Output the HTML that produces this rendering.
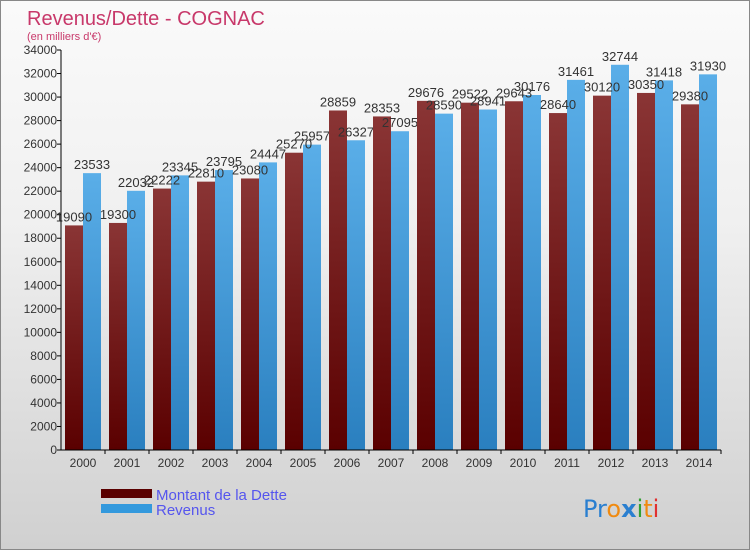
<!DOCTYPE html>
<html><head><meta charset="utf-8">
<style>
body{margin:0;}
#wrap{position:relative;width:748px;height:548px;border:1px solid #888;background:linear-gradient(#fafafa,#f0f0f0 40%,#d0d0d0);font-family:"Liberation Sans",sans-serif;overflow:hidden;}
</style></head><body>
<div id="wrap">
<svg id="chart" width="748" height="548" xmlns="http://www.w3.org/2000/svg" font-family="Liberation Sans, sans-serif">
<defs>
<linearGradient id="gd" x1="0" y1="0" x2="0" y2="1"><stop offset="0" stop-color="#8a3535"/><stop offset="1" stop-color="#5a0000"/></linearGradient>
<linearGradient id="gr" x1="0" y1="0" x2="0" y2="1"><stop offset="0" stop-color="#5aaee8"/><stop offset="1" stop-color="#2a7fbf"/></linearGradient>
</defs>
<text x="26" y="24" font-size="20" fill="#c8386a">Revenus/Dette - COGNAC</text>
<text x="26" y="39" font-size="11" fill="#c8386a">(en milliers d'€)</text>
<g id="plot"></g>
<rect x="100" y="488" width="51" height="9" fill="#5a0000"/>
<rect x="100" y="503" width="51" height="9" fill="#3399dd"/>
<text x="155" y="499" font-size="15" fill="#5555ee">Montant de la Dette</text>
<text x="155" y="514" font-size="15" fill="#5555ee">Revenus</text>
<g font-size="24" font-family="DejaVu Sans, sans-serif">
<text x="582" y="516"><tspan fill="#2a7fd0">Pr</tspan><tspan fill="#f08a10">o</tspan><tspan fill="#2a7fd0" font-weight="bold">x</tspan><tspan fill="#33a033">i</tspan><tspan fill="#f08a10">t</tspan><tspan fill="#e03030">i</tspan></text>
</g>
</svg>
</div>
<script>
const years=["2000","2001","2002","2003","2004","2005","2006","2007","2008","2009","2010","2011","2012","2013","2014"];
const dette=[19090,19300,22222,22810,23080,25270,28859,28353,29676,29522,29643,28640,30120,30350,29380];
const revenus=[23533,22032,23345,23795,24447,25957,26327,27095,28590,28941,30176,31461,32744,31418,31930];
const yTicks=[0,2000,4000,6000,8000,10000,12000,14000,16000,18000,20000,22000,24000,26000,28000,30000,32000,34000];
const NS="http://www.w3.org/2000/svg";
const g=document.getElementById('plot');
const x0=60,y0=449,yMax=34000,ph=400,step=44,bw=18;
function y(v){return y0-v/yMax*ph;}
function xc(i){return x0+22+i*step;}
function mk(t,a){const e=document.createElementNS(NS,t);for(const k in a)e.setAttribute(k,a[k]);g.appendChild(e);return e;}
yTicks.forEach(v=>{
 const l=mk('line',{x1:x0-4,x2:x0,y1:y(v),y2:y(v),stroke:'#000'});
 
 
 const t=mk('text',{x:x0-4,y:y(v)+4,'font-size':12,'text-anchor':'end',fill:'#333'});
 t.textContent=v;
 
 
});
years.forEach((yr,i)=>{
 const c=xc(i);
 const d=mk('rect',{x:c-bw,y:y(dette[i]),width:bw,height:y0-y(dette[i]),fill:'url(#gd)'});
 
 
 const r=mk('rect',{x:c,y:y(revenus[i]),width:bw,height:y0-y(revenus[i]),fill:'url(#gr)'});
 
 
 const td=mk('text',{x:c-bw/2,y:y(dette[i])-4,'font-size':13,'text-anchor':'middle',fill:'#333'});
 td.textContent=dette[i];
 
 
 const tr=mk('text',{x:c+bw/2,y:y(revenus[i])-4,'font-size':13,'text-anchor':'middle',fill:'#333'});
 tr.textContent=revenus[i];
 
 
 const tk=mk('line',{x1:c+22,x2:c+22,y1:y0,y2:y0+4,stroke:'#000'});
 
 
 const tl=mk('text',{x:c,y:466,'font-size':12,'text-anchor':'middle',fill:'#333'});
 tl.textContent=yr;
 
 
});
const ax=mk('line',{x1:x0,x2:x0,y1:y(yMax),y2:y0,stroke:'#000'});


const bx=mk('line',{x1:x0,x2:x0+years.length*step,y1:y0,y2:y0,stroke:'#000'});


</script>
</body></html>
